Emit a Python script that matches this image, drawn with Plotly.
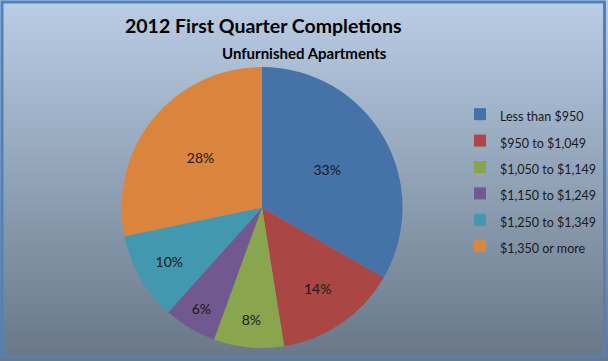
import plotly.graph_objects as go

categories = ["Less than $950", "$950 to $1,049", "$1,050 to $1,149",
              "$1,150 to $1,249", "$1,250 to $1,349", "$1,350 or more"]
percent_values = [33, 14, 8, 6, 10, 28]
slice_colors = ["#4572A7", "#AA4643", "#89A54E", "#71588F", "#4198AF", "#DB843D"]

W, H = 608, 361

fig = go.Figure()
fig.add_trace(go.Pie(
    labels=["<span style='font-size:12.5px'>%s</span>" % c for c in categories],
    values=percent_values,
    text=[f"{v}%" for v in percent_values],
    textinfo="text",
    textposition="inside",
    insidetextorientation="horizontal",
    textfont=dict(family="Lato, Open Sans, sans-serif", size=14, color="#1a1a1a"),
    marker=dict(colors=slice_colors, line=dict(width=0)),
    sort=False,
    direction="clockwise",
    rotation=0,
    domain=dict(x=[120 / W, 404 / W], y=[(H - 348) / H, (H - 67) / H]),
    hoverinfo="label+percent",
))

# gradient background (decorative)
top = (185, 205, 229)
bot = (105, 119, 135)
n = 90
shapes = []
for i in range(n):
    t = i / (n - 1)
    c = tuple(round(top[k] + (bot[k] - top[k]) * t) for k in range(3))
    y1 = 1 - i / n
    y0 = 1 - (i + 1) / n
    shapes.append(dict(type="rect", xref="paper", yref="paper", x0=0, x1=1,
                       y0=y0 - 0.002, y1=y1, fillcolor="rgb(%d,%d,%d)" % c,
                       line=dict(width=0), layer="below"))
shapes.append(dict(type="rect", xref="paper", yref="paper",
                   x0=2 / W, x1=1 - 3.5 / W, y0=4.5 / H, y1=1 - 2 / H,
                   line=dict(color="#4F81BD", width=3), fillcolor="rgba(0,0,0,0)",
                   layer="above"))

fig.update_layout(
    width=W, height=H,
    margin=dict(l=0, r=0, t=0, b=0),
    paper_bgcolor="#B9CDE5",
    plot_bgcolor="rgba(0,0,0,0)",
    shapes=shapes,
    showlegend=True,
    legend=dict(
        x=460 / W, y=(H - 96) / H, xanchor="left", yanchor="top",
        font=dict(family="Lato, Open Sans, sans-serif", size=18, color="#1a1a1a"),
        bgcolor="rgba(0,0,0,0)", traceorder="normal",
    ),
    annotations=[
        dict(text="<b>2012 First Quarter Completions</b>", x=263 / W, y=(H - 25) / H,
             xref="paper", yref="paper", showarrow=False, xanchor="center", yanchor="middle",
             font=dict(family="Lato, Open Sans, sans-serif", size=19.5, color="#000000")),
        dict(text="<b>Unfurnished Apartments</b>", x=304 / W, y=(H - 53) / H,
             xref="paper", yref="paper", showarrow=False, xanchor="center", yanchor="middle",
             font=dict(family="Lato, Open Sans, sans-serif", size=15, color="#000000")),
    ],
)

fig.write_html("out.html")
